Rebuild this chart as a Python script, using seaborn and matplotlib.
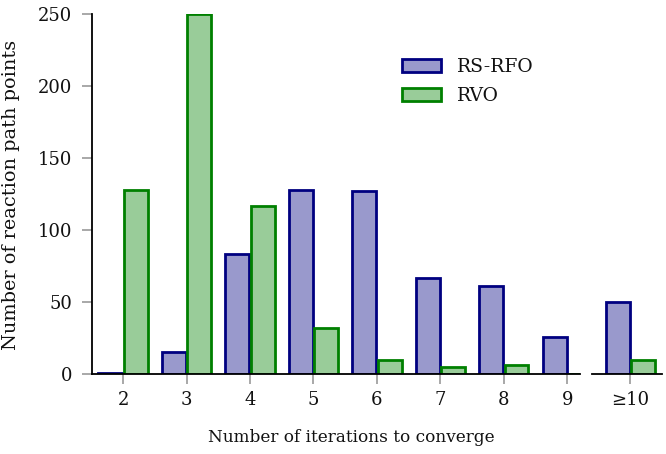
import matplotlib
matplotlib.use("Agg")
import matplotlib.pyplot as plt
import seaborn as sns
import pandas as pd
from matplotlib.patches import Patch

categories = ["2", "3", "4", "5", "6", "7", "8", "9", "≥10"]
rsrfo = [1, 15, 83, 128, 127, 67, 61, 26, 50]
rvo = [128, 250, 117, 32, 10, 5, 6, 0, 10]
series_names = ["RS-RFO", "RVO"]
yticks = [0, 50, 100, 150, 200, 250]

fill_colors = {"RS-RFO": "#9999cc", "RVO": "#99cc99"}
edge_colors = {"RS-RFO": "#000080", "RVO": "#008000"}

df = pd.DataFrame({
    "iter": categories * 2,
    "count": rsrfo + rvo,
    "method": [series_names[0]] * len(categories) + [series_names[1]] * len(categories),
})

sns.set_style("white")
plt.rcParams["font.family"] = ["DejaVu Serif"]
plt.rcParams["font.size"] = 13
plt.rcParams["text.color"] = "#111111"
plt.rcParams["xtick.labelcolor"] = "#111111"
plt.rcParams["ytick.labelcolor"] = "#111111"

fig = plt.figure(figsize=(6.66, 4.54), dpi=100)
W, H = 666, 454
bottom = 1 - 374 / H
top = 1 - 14 / H
axL = fig.add_axes([92 / W, bottom, (580 - 92) / W, top - bottom])
axR = fig.add_axes([592 / W, bottom, (662 - 592) / W, top - bottom], sharey=axL)

left_cats = categories[:-1]
right_cats = categories[-1:]

for ax, cats in ((axL, left_cats), (axR, right_cats)):
    sub = df[df["iter"].isin(cats)]
    sns.barplot(data=sub, x="iter", y="count", hue="method", order=cats,
                hue_order=series_names, palette=fill_colors, width=0.8, gap=0.06,
                linewidth=2, saturation=1, ax=ax, legend=False)
    for cont, name in zip(ax.containers, series_names):
        for bar in cont:
            bar.set_edgecolor(edge_colors[name])
            bar.set_linewidth(2)
            bar.set_alpha(1)
    ax.set_xlabel("")
    ax.set_ylabel("")
    for s in ("top", "right"):
        ax.spines[s].set_visible(False)
    ax.spines["bottom"].set_color("black")
    ax.spines["bottom"].set_linewidth(1.3)
    ax.tick_params(axis="x", bottom=True, length=7, width=1.2, color="#999999",
                   pad=5, labelsize=13, labelcolor="#111111")

axL.set_xlim(-0.49, 7.2)
axR.set_xlim(-0.61, 0.5)
axL.set_ylim(0, 250)
axL.set_yticks(yticks)
axL.spines["left"].set_color("black")
axL.spines["left"].set_linewidth(1.3)
axL.tick_params(axis="y", left=True, length=7, width=1.2, color="#999999", pad=7,
                labelsize=13, labelcolor="#111111")
axR.spines["left"].set_visible(False)
axR.tick_params(axis="y", left=False, labelleft=False)

fig.text(11 / W, 1 - 195 / H, "Number of reaction path points", rotation=90,
         ha="center", va="center", fontsize=13.9, color="#111111")
fig.text(351 / W, 1 - 437 / H, "Number of iterations to converge",
         ha="center", va="center", fontsize=12.2, color="#111111")

handles = [Patch(facecolor=fill_colors[n], edgecolor=edge_colors[n], linewidth=2) for n in series_names]
leg = axL.legend(handles, series_names, loc="upper left", bbox_to_anchor=(402 / W, 1 - 58 / H),
                 bbox_transform=fig.transFigure, frameon=False, fontsize=13.5,
                 handlelength=2.1, handleheight=0.72, labelspacing=0.6, handletextpad=0.85,
                 borderpad=0, borderaxespad=0)
for t in leg.get_texts():
    t.set_color("#111111")

fig.savefig("out.png", dpi=100)
